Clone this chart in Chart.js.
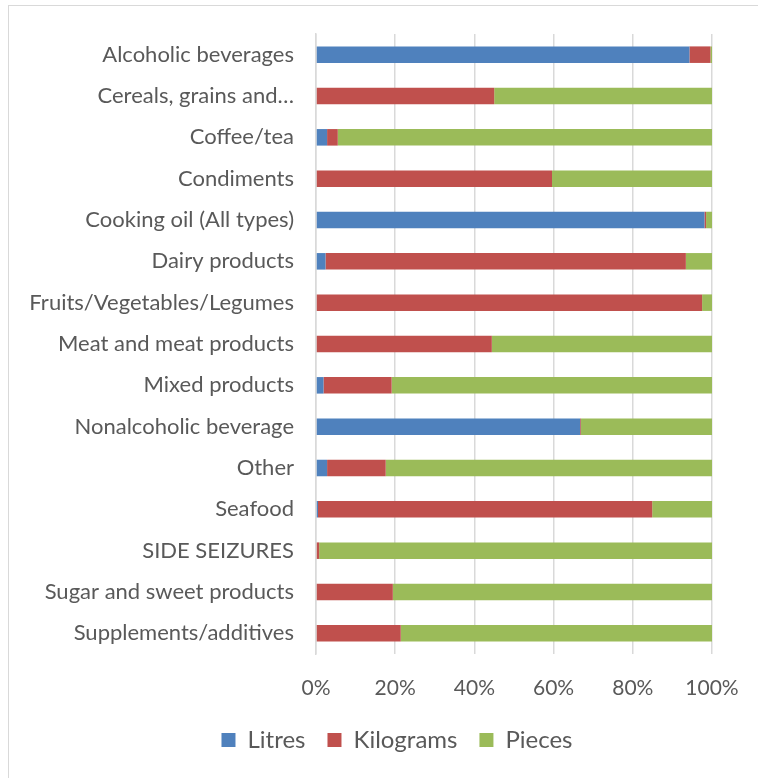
<!DOCTYPE html>
<html>
<head>
<meta charset="utf-8">
<script src="https://cdn.jsdelivr.net/npm/chart.js@4"></script>
<style>
  html, body { margin: 0; padding: 0; background: #fff; }
  #wrap { position: relative; width: 758px; height: 778px; overflow: hidden; }
  #frame { position: absolute; left: 8px; top: 5px; width: 780px; height: 800px; border: 1px solid #d9d9d9; box-sizing: border-box; }
  #chart { position: absolute; left: 0; top: 0; }
</style>
</head>
<body>
<div id="wrap">
  <div id="frame"></div>
  <canvas id="chart" width="758" height="778"></canvas>
</div>
<script>
// categories (top to bottom)
const categories = [
    'Alcoholic beverages',
    'Cereals, grains and\u2026',
    'Coffee/tea',
    'Condiments',
    'Cooking oil (All types)',
    'Dairy products',
    'Fruits/Vegetables/Legumes',
    'Meat and meat products',
    'Mixed products',
    'Nonalcoholic beverage',
    'Other',
    'Seafood',
    'SIDE SEIZURES',
    'Sugar and sweet products',
    'Supplements/additives'
];

// share of each unit, in %
const litres    = [94.3, 0,    2.8,  0,    98.1, 2.4,  0,    0,    1.9,  66.7, 2.8,  0.5,  0,    0,    0];
const kilograms = [5.3,  45.0, 2.7,  59.6, 0.4,  91.0, 97.5, 44.4, 17.2, 0.2,  14.8, 84.4, 0.8,  19.4, 21.4];
const pieces    = [0.4,  55.0, 94.5, 40.4, 1.5,  6.6,  2.5,  55.6, 80.9, 33.1, 82.4, 15.1, 99.2, 80.6, 78.6];

const tickValues = [0, 20, 40, 60, 80, 100];

const textColor = '#595959';
const gridColor = '#d9d9d9';
const fontFamily = 'Lato, "Open Sans", sans-serif';

// legend sits a bit right of the canvas centre in the original
const legendShift = {
    id: 'legendShift',
    afterLayout(chart) {
        chart.legend.left += 41;
        chart.legend.right += 41;
    }
};

let ctx = document.querySelector('#chart').getContext('2d');

let unitChart = new Chart(ctx, {
    type: 'bar',
    data: {
        labels: categories,
        datasets: [
            { label: 'Litres', data: litres, backgroundColor: '#4f81bd' },
            { label: 'Kilograms', data: kilograms, backgroundColor: '#c0504d' },
            { label: 'Pieces', data: pieces, backgroundColor: '#9bbb59' }
        ]
    },
    options: {
        indexAxis: 'y',
        responsive: false,
        animation: false,
        datasets: {
            bar: { categoryPercentage: 1, barPercentage: 0.4 }
        },
        layout: {
            padding: { top: 34, right: 46, bottom: 16, left: 0 }
        },
        scales: {
            x: {
                stacked: true,
                min: 0,
                max: 100,
                afterBuildTicks: scale => {
                    scale.ticks = tickValues.map(v => ({ value: v }));
                },
                afterFit: scale => {
                    scale.height = 52;
                    // let the "100%" label hang over the edge, no extra room
                    scale.paddingLeft = 0;
                    scale.paddingRight = 0;
                },
                grid: { color: gridColor, lineWidth: 1.5, drawTicks: false },
                border: { display: false },
                ticks: {
                    color: textColor,
                    padding: 22,
                    font: { family: fontFamily, size: 21 },
                    callback: v => v + '%'
                }
            },
            y: {
                stacked: true,
                afterFit: scale => { scale.width = 316; },
                grid: { display: false },
                border: { color: gridColor, width: 1.5 },
                ticks: {
                    color: textColor,
                    padding: 14,
                    autoSkip: false,
                    font: { family: fontFamily, size: 22 }
                }
            }
        },
        plugins: {
            legend: {
                position: 'bottom',
                labels: {
                    color: textColor,
                    boxWidth: 14,
                    boxHeight: 14,
                    padding: 22,
                    font: { family: fontFamily, size: 24 }
                }
            },
            tooltip: { enabled: false }
        }
    },
    plugins: [legendShift]
});
</script>
</body>
</html>
